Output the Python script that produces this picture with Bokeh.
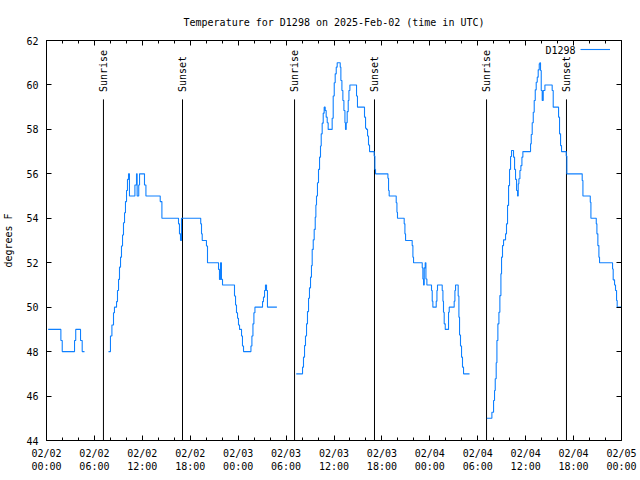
import math
from bokeh.plotting import figure
from bokeh.models import (Range1d, FixedTicker, LinearAxis, Label, Legend, LegendItem)
from bokeh.core.properties import value
from bokeh.embed import file_html
from bokeh.resources import INLINE

# ---------------- data (hours since 2025-02-02 00:00 UTC, degrees F) ----------------
seg1_hours = [0.21, 1.80, 1.97, 3.51, 3.66, 4.26, 4.47, 4.76]
seg1_temps = [49, 48.5, 48, 48.5, 49, 48.5, 48, 48]

seg2_hours = [7.76, 8.01, 8.19, 8.39, 8.51, 8.77, 8.89, 9.02, 9.14, 9.27, 9.39, 9.52, 9.64,
              9.77, 9.89, 10.02, 10.14, 10.27, 10.39, 11.07, 11.27, 11.35, 11.55, 11.65,
              12.27, 12.45, 14.24, 14.45, 16.53, 16.65, 16.78, 16.90, 19.31, 19.41, 19.50,
              20.03, 20.16, 21.54, 21.66, 21.79, 21.91, 22.04, 23.54, 23.67, 23.79, 23.92,
              24.04, 24.17, 24.42, 24.54, 24.67, 25.60, 25.72, 25.85, 25.97, 26.10, 27.05,
              27.17, 27.30, 27.42, 27.55, 27.67, 28.85]
seg2_temps = [48.0, 48.7, 49.2, 49.75, 50.0, 50.25, 50.75, 51.25, 51.8, 52.25, 52.75, 53.25, 53.8,
              54.25, 54.75, 55.25, 55.75, 56.0, 55.0, 55.5, 56.0, 55.0, 55.5, 56.0,
              55.5, 55.0, 54.75, 54.0, 53.75, 53.3, 53.0, 54.0, 53.75, 53.3, 53.0,
              52.75, 52.0, 51.7, 51.25, 52.0, 51.25, 51.0, 50.5, 50.1, 49.75, 49.5,
              49.2, 49.0, 48.7, 48.25, 48.0, 48.25, 48.7, 49.25, 49.75, 50.0, 50.25,
              50.45, 50.75, 51.0, 50.75, 50.0, 50.0]

seg3_hours = [31.27, 32.06, 32.18, 32.31, 32.43, 32.56, 32.68, 32.81, 32.93, 33.06, 33.18, 33.27,
              33.40, 33.52, 33.65, 33.73, 33.81, 33.93, 34.06, 34.19, 34.31, 34.40, 34.52, 34.65,
              34.77, 34.90, 35.02, 35.15, 35.27, 35.77, 35.90, 36.03, 36.15, 36.28, 36.40, 36.78,
              36.86, 36.99, 37.11, 37.24, 37.37, 37.44, 37.53, 37.65, 37.78, 37.87, 37.99, 38.82,
              38.94, 39.82, 39.95, 40.07, 40.20, 40.32, 40.45, 41.03, 41.12, 41.20, 42.75, 42.83,
              42.91, 43.79, 43.88, 43.95, 44.79, 44.88, 44.96, 45.79, 45.88, 45.96, 47.05, 47.13,
              47.21, 47.30, 47.42, 47.51, 47.63, 48.21, 48.30, 48.38, 48.80, 48.89, 48.96, 49.55,
              49.64, 49.71, 49.80, 49.93, 50.34, 50.43, 51.05, 51.14, 51.22, 51.55, 51.64, 51.72,
              51.84, 51.97, 52.09, 52.22, 52.97]
seg3_temps = [47.0, 47.3, 47.75, 48.27, 48.7, 49.25, 49.8, 50.4, 50.87, 51.35, 51.87, 52.6,
              53.03, 53.5, 54.05, 54.6, 55.0, 55.6, 56.2, 56.75, 57.25, 57.8, 58.28, 58.73,
              59.0, 58.85, 58.55, 58.3, 58.0, 58.5, 59.5, 60.1, 60.5, 60.8, 61.0, 60.8,
              60.2, 59.75, 59.3, 58.85, 58.3, 58.0, 58.3, 58.8, 59.3, 59.75, 60.0, 59.5,
              59.0, 58.55, 58.05, 58.0, 57.7, 57.3, 57.0, 56.8, 56.2, 56.0, 55.8, 55.25,
              55.0, 54.7, 54.27, 54.0, 53.75, 53.3, 53.0, 52.77, 52.25, 52.0, 51.77, 51.27,
              51.0, 51.77, 52.0, 51.27, 51.0, 50.75, 50.27, 50.0, 50.27, 50.75, 51.0, 50.75,
              50.27, 49.77, 49.25, 49.0, 49.77, 50.0, 50.27, 50.75, 51.0, 50.5, 49.55, 48.75,
              48.25, 47.75, 47.3, 47.0, 47.0]

seg4_hours = [55.14, 55.77, 55.98, 56.10, 56.19, 56.31, 56.40, 56.52, 56.65, 56.77, 56.90, 56.98,
              57.10, 57.23, 57.48, 57.60, 57.73, 57.86, 57.98, 58.11, 58.23, 58.48, 58.61, 58.73,
              58.86, 58.98, 59.07, 59.15, 59.28, 59.40, 59.53, 59.65, 60.61, 60.70, 60.82, 60.95,
              61.07, 61.20, 61.32, 61.45, 61.57, 61.70, 61.78, 61.86, 61.95, 62.07, 62.20, 62.41,
              63.32, 63.45, 64.12, 64.24, 64.37, 64.49, 65.08, 65.16, 67.08, 67.17, 68.09, 68.17,
              68.84, 68.92, 69.04, 69.17, 69.25, 70.88, 70.96, 71.13, 71.25, 71.38, 71.46, 71.96]
seg4_temps = [45.0, 45.27, 45.8, 46.25, 46.78, 47.5, 48.5, 49.25, 49.77, 50.52, 51.5, 52.25,
              52.77, 53.03, 53.3, 53.75, 54.58, 55.47, 56.2, 56.78, 57.05, 56.75, 56.2, 55.75,
              55.25, 55.0, 55.55, 55.78, 56.15, 56.37, 56.75, 57.0, 57.35, 57.77, 58.3, 58.77,
              59.3, 59.78, 60.12, 60.35, 60.68, 60.95, 61.0, 60.65, 59.75, 59.3, 59.75, 60.0,
              59.75, 59.0, 58.55, 57.8, 57.27, 57.0, 56.8, 56.0, 55.7, 55.0, 54.72, 54.0,
              53.75, 53.3, 52.77, 52.25, 52.0, 51.72, 51.23, 51.0, 50.75, 50.3, 50.0, 50.0]

sun_hours = [7.13, 17.03, 31.06, 41.07, 55.10, 65.11]
sun_labels = ["Sunrise", "Sunset", "Sunrise", "Sunset", "Sunrise", "Sunset"]
sun_line_top = 59.35
sun_text_base = 59.68

x_ticks = [0, 6, 12, 18, 24, 30, 36, 42, 48, 54, 60, 66, 72]
x_tick_labels = ["02/02\n00:00", "02/02\n06:00", "02/02\n12:00", "02/02\n18:00",
                 "02/03\n00:00", "02/03\n06:00", "02/03\n12:00", "02/03\n18:00",
                 "02/04\n00:00", "02/04\n06:00", "02/04\n12:00", "02/04\n18:00",
                 "02/05\n00:00"]
x_minor = [h for h in range(0, 73, 2)]
y_ticks = [44, 46, 48, 50, 52, 54, 56, 58, 60, 62]

title_text = "Temperature for D1298 on 2025-Feb-02 (time in UTC)"
series_name = "D1298"
y_label = "degrees F"

FONT = "DejaVu Sans Mono"
FS = "10px"
BLUE = "#0f80ff"

# ---------------- figure ----------------
p = figure(width=640, height=480, output_backend="svg", toolbar_location=None,
           x_range=Range1d(0, 72), y_range=Range1d(44, 62),
           min_border_left=46, min_border_right=19, min_border_top=40, min_border_bottom=40,
           x_axis_type=None, y_axis_type=None)
p.xgrid.visible = False
p.ygrid.visible = False
p.outline_line_color = "black"
p.outline_line_width = 1
p.background_fill_color = "white"
p.border_fill_color = "white"

p.title.text = title_text
p.title.align = "center"
p.title.vertical_align = "top"
p.title.text_font = FONT
p.title.text_font_size = FS
p.title.text_font_style = "normal"
p.title.text_color = "black"
p.title.standoff = 21


def style_axis(ax, show_labels):
    ax.axis_line_color = None
    ax.major_tick_in = 5
    ax.major_tick_out = 0
    ax.minor_tick_in = 3
    ax.minor_tick_out = 0
    ax.major_tick_line_color = "black"
    ax.minor_tick_line_color = "black"
    ax.major_label_text_font = FONT
    ax.major_label_text_font_size = FS if show_labels else "0px"
    ax.major_label_text_color = "black" if show_labels else None
    ax.major_label_standoff = 7 if show_labels else 0


xb = LinearAxis(ticker=FixedTicker(ticks=x_ticks, minor_ticks=x_minor))
xb.major_label_overrides = {t: l for t, l in zip(x_ticks, x_tick_labels)}
style_axis(xb, True)
p.add_layout(xb, "below")

xt = LinearAxis(ticker=FixedTicker(ticks=x_ticks, minor_ticks=x_minor))
style_axis(xt, False)
p.add_layout(xt, "above")

yl = LinearAxis(ticker=FixedTicker(ticks=y_ticks, minor_ticks=[]))
style_axis(yl, True)
yl.major_label_standoff = 8
yl.axis_label = y_label
yl.axis_label_text_font = FONT
yl.axis_label_text_font_size = FS
yl.axis_label_text_font_style = "normal"
yl.axis_label_text_color = "black"
yl.axis_label_standoff = 9
p.add_layout(yl, "left")

yr = LinearAxis(ticker=FixedTicker(ticks=y_ticks, minor_ticks=[]))
style_axis(yr, False)
p.add_layout(yr, "right")

# ---------------- sunrise / sunset ----------------
p.segment(x0=sun_hours, y0=[44] * len(sun_hours), x1=sun_hours, y1=[sun_line_top] * len(sun_hours),
          line_color="black", line_width=1)
p.text(x=sun_hours, y=[sun_text_base] * len(sun_hours), text=sun_labels, angle=math.pi / 2,
       text_align="left", text_baseline="middle", text_font=value(FONT),
       text_font_size=FS, text_color="black")

# ---------------- temperature series ----------------
renderers = []
for hrs, tmp in [(seg1_hours, seg1_temps), (seg2_hours, seg2_temps),
                 (seg3_hours, seg3_temps), (seg4_hours, seg4_temps)]:
    r = p.step(x=hrs, y=tmp, mode="after", line_color=BLUE, line_width=1.1)
    renderers.append(r)

# legend: text on the left, sample line on the right (gnuplot style)
legend = Legend(items=[LegendItem(label=" ", renderers=[renderers[0]])],
                location=(534, 386), orientation="vertical",
                border_line_color=None, background_fill_alpha=0,
                glyph_width=30, glyph_height=10, label_height=10, label_width=0,
                label_standoff=0, padding=0, margin=0, spacing=0,
                label_text_font_size="1px")
p.add_layout(legend, "center")

p.add_layout(Label(x=529, y=390, x_units="screen", y_units="screen", text=series_name,
                   text_align="right", text_baseline="middle", text_font=FONT,
                   text_font_size=FS, text_color="black"))

open("out.html", "w").write(file_html(p, INLINE))
